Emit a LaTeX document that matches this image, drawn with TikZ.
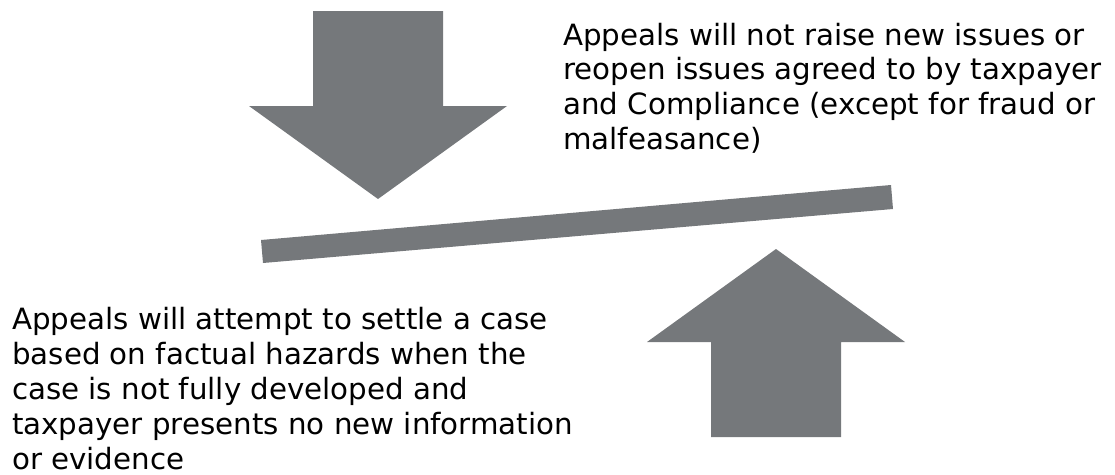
\documentclass[tikz,border=0pt]{standalone}
\usepackage{fontspec}
\setmainfont{DejaVu Sans}
\definecolor{arrowgray}{RGB}{117,120,123}
\begin{document}
\begin{tikzpicture}[x=1pt,y=-1pt,
  shapefill/.style={fill=arrowgray,draw=none},
  txt/.style={inner sep=0pt,align=left,anchor=base west,text=black,
    font=\fontsize{29.3pt}{34.8pt}\selectfont}]
\useasboundingbox (0,0) rectangle (1115,474);
% down arrow
\fill[shapefill] (313,11) -- (443,11) -- (443,106) -- (507,106) -- (378,199)
  -- (249,106) -- (313,106) -- cycle;
% bar
\fill[shapefill] (261,240) -- (891,185) -- (893,209) -- (263,263) -- cycle;
% up arrow
\fill[shapefill] (711,437) -- (841,437) -- (841,342) -- (905,342) -- (776,249)
  -- (647,342) -- (711,342) -- cycle;
% texts (anchor = baseline of last line)
\node[txt] (top) at (563,149.5) {Appeals will not raise new issues or\\reopen issues agreed to by taxpayer\\and Compliance (except for fraud or\\malfeasance)};
\node[txt] (bottom) at (12,469) {Appeals will attempt to settle a case\\based on factual hazards when the\\case is not fully developed and\\taxpayer presents no new information\\or evidence};
\end{tikzpicture}
\end{document}
